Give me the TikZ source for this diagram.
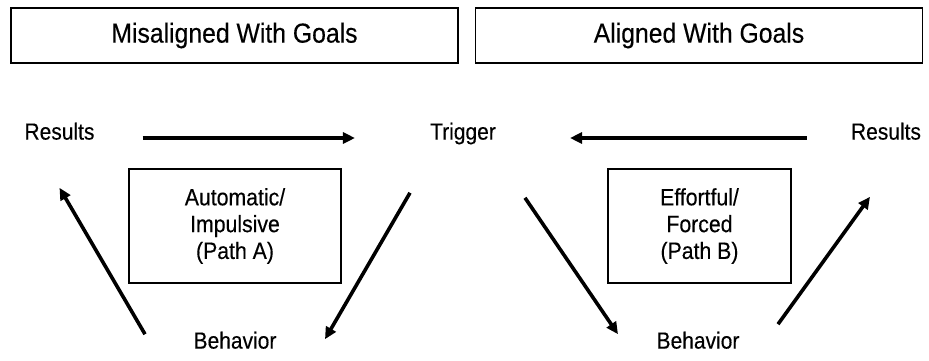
\documentclass[tikz,border=0pt]{standalone}
\usepackage{fontspec}
\setmainfont{Liberation Sans}[FakeStretch=0.9, FakeBold=0.3]
\usetikzlibrary{arrows.meta}

\begin{document}
\begin{tikzpicture}[x=1pt, y=1pt]
      \tikzset{
	  heading/.style={rectangle, draw=black, line width=1.2pt, minimum width=447pt, minimum height=55pt, inner sep=0pt, font=\fontsize{27.5}{33}\selectfont},
	  pathbox/.style={rectangle, draw=black, line width=1.6pt, minimum height=114pt, inner sep=0pt, align=center, font=\fontsize{23.6}{26.8}\selectfont},
	  stage/.style={inner sep=0pt, text height=0.72em, text depth=0pt, font=\fontsize{23.3}{28}\selectfont},
	  flow/.style={line width=3.6pt, -{Triangle[length=12pt, width=11pt]}}
      }

      \useasboundingbox (0,0) rectangle (929,-360);

      % the two headings
      \node [heading] (misaligned) at (234.5,-35.5) {Misaligned With Goals};
      \node [heading] (aligned) at (699,-35.5) {Aligned With Goals};

      % cycle stages
      \node [stage] (resultsA) at (59.5,-136) {Results};
      \node [stage] (trigger) at (463,-136) {Trigger};
      \node [stage] (resultsB) at (886,-136) {Results};
      \node [stage] (behaviorA) at (235,-345) {Behavior};
      \node [stage] (behaviorB) at (698,-345) {Behavior};

      % the two paths
      \node [pathbox, minimum width=212pt] (pathA) at (235,-226) {Automatic/\\Impulsive\\(Path A)};
      \node [pathbox, minimum width=183pt] (pathB) at (699.5,-226) {Effortful/\\Forced\\(Path B)};

      % path A: results -> trigger -> behavior -> results
      \draw [flow, shorten <=48pt, shorten >=75pt] ([yshift=-2pt]resultsA.east) -- ([yshift=-2pt]trigger.west);
      \draw [flow] ([xshift=-53pt, yshift=-53pt]trigger.south) -- ([xshift=90pt, yshift=2pt]behaviorA.north);
      \draw [flow] ([xshift=-90pt, yshift=7pt]behaviorA.north) -- ([yshift=-48pt]resultsA.south);

      % path B: results -> trigger -> behavior -> results
      \draw [flow, shorten <=44pt, shorten >=74pt] ([yshift=-2pt]resultsB.west) -- ([yshift=-2pt]trigger.east);
      \draw [flow] ([xshift=62pt, yshift=-58pt]trigger.south) -- ([xshift=-80pt, yshift=7pt]behaviorB.north);
      \draw [flow] ([xshift=80pt, yshift=17pt]behaviorB.north) -- ([xshift=-16pt, yshift=-57pt]resultsB.south);
    \end{tikzpicture}
\end{document}
